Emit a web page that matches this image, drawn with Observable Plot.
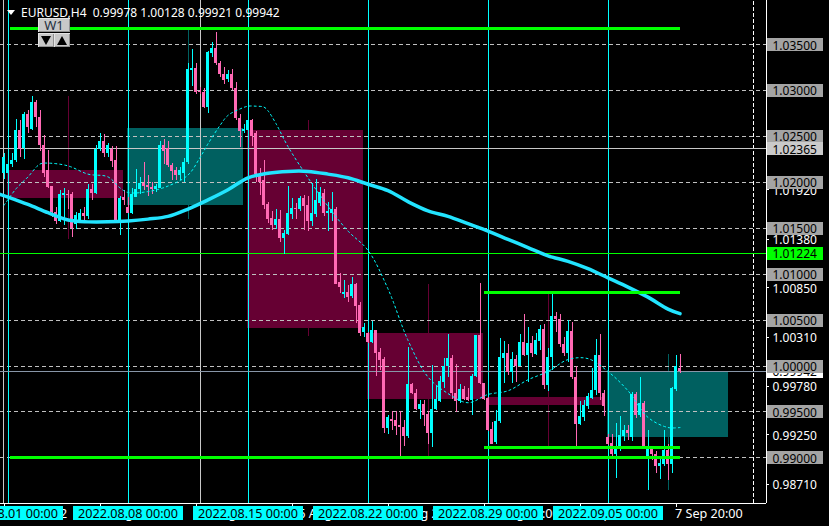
<!DOCTYPE html>
<html><head><meta charset="utf-8">
<script src="https://cdn.jsdelivr.net/npm/d3@7"></script>
<script src="https://cdn.jsdelivr.net/npm/@observablehq/plot@0.6"></script>
<style>
html,body{margin:0;padding:0;background:#000;overflow:hidden;}
#wrap{position:relative;width:829px;height:526px;overflow:hidden;background:#000;}
#wrap svg{display:block;}
#wrap svg rect,#wrap svg line{shape-rendering:crispEdges;}
.tri{position:absolute;left:7px;top:10px;width:0;height:0;border-left:4px solid transparent;border-right:4px solid transparent;border-top:5px solid #fff;}
.hdr{position:absolute;left:21px;top:5px;font:12px/16px "Noto Sans";color:#fff;white-space:pre;}
.w1{position:absolute;left:38px;top:18px;width:32px;height:14px;background:#c8c8c8;color:#243040;font:13px/14px "Noto Sans";text-align:center;box-shadow:inset 1px 1px 0 #e4e4e4,inset -1px -1px 0 #909090;}
.btn{position:absolute;top:33px;width:16px;height:14px;background:#c8c8c8;box-shadow:inset 1px 1px 0 #e4e4e4,inset -1px -1px 0 #909090;}
.b1{left:38px}.b2{left:54px}
.dn,.up{position:absolute;left:3px;top:3px;width:0;height:0;border-left:5px solid transparent;border-right:5px solid transparent;}
.dn{border-top:9px solid #000;}
.up{border-bottom:9px solid #000;}
</style></head>
<body>
<div id="wrap">
  <div id="chart"></div>
  <div class="tri"></div>
  <div class="hdr" id="hdr"></div>
  <div class="w1">W1</div>
  <div class="btn b1"><span class="dn"></span></div>
  <div class="btn b2"><span class="up"></span></div>
</div>
<script>
// ================= DATA =================
const symbol = "EURUSD", timeframe = "H4";
const firstBar = -1; // bar index of first candle (bar 0 = 2022.08.01 00:00, H4 bars)

const openP = [
1.0210,1.0210,1.0219,1.0224,1.0256,1.0237,1.0274,1.0258,1.0287,1.0271,
1.0240,1.0213,1.0195,1.0167,1.0157,1.0186,1.0187,1.0187,1.0154,1.0158,
1.0166,1.0163,1.0192,1.0188,1.0236,1.0245,1.0232,1.0236,1.0224,1.0159,
1.0184,1.0173,1.0166,1.0184,1.0192,1.0199,1.0197,1.0194,1.0192,1.0193,
1.0240,1.0237,1.0218,1.0213,1.0207,1.0210,1.0222,1.0322,1.0324,1.0299,
1.0298,1.0282,1.0340,1.0346,1.0330,1.0317,1.0312,1.0317,1.0302,1.0270,
1.0255,1.0256,1.0267,1.0253,1.0209,1.0202,1.0176,1.0161,1.0153,1.0160,
1.0139,1.0143,1.0165,1.0172,1.0170,1.0183,1.0175,1.0157,1.0165,1.0177,
1.0188,1.0166,1.0166,1.0171,1.0091,1.0078,1.0080,1.0076,1.0089,1.0066,
1.0036,1.0035,1.0026,1.0039,1.0015,1.0007,0.9932,0.9942,0.9941,0.9935,
0.9933,0.9923,0.9980,0.9970,0.9953,0.9958,0.9947,0.9927,0.9953,0.9961,
0.9982,0.9999,1.0008,0.9970,0.9961,0.9974,0.9966,0.9962,0.9989,1.0033,
0.9981,0.9965,0.9931,0.9917,0.9939,1.0008,1.0014,0.9993,1.0007,1.0000,
1.0026,1.0011,1.0024,1.0013,1.0027,1.0040,0.9979,1.0009,1.0054,1.0051,
1.0023,1.0014,1.0038,0.9988,0.9936,0.9944,0.9956,0.9965,0.9973,1.0011,
0.9970,0.9922,0.9916,0.9904,0.9910,0.9923,0.9930,0.9922,0.9969,0.9946,
0.9959,0.9901,0.9909,0.9904,0.9890,0.9893,0.9908,0.9893,0.9974,0.99978];

const highP = [
1.0232,1.0229,1.0231,1.0269,1.0267,1.0276,1.0278,1.0294,1.0289,1.0278,
1.0251,1.0235,1.0196,1.0173,1.0191,1.0193,1.0191,1.0189,1.0167,1.0171,
1.0173,1.0198,1.0198,1.0240,1.0253,1.0252,1.0242,1.0239,1.0239,1.0185,
1.0191,1.0184,1.0193,1.0214,1.0205,1.0222,1.0207,1.0200,1.0198,1.0245,
1.0247,1.0245,1.0221,1.0216,1.0216,1.0226,1.0329,1.0345,1.0329,1.0303,
1.0302,1.0343,1.0352,1.0363,1.0332,1.0325,1.0322,1.0323,1.0309,1.0274,
1.0263,1.0269,1.0268,1.0255,1.0215,1.0224,1.0178,1.0168,1.0170,1.0169,
1.0148,1.0195,1.0182,1.0177,1.0185,1.0186,1.0185,1.0199,1.0203,1.0194,
1.0192,1.0178,1.0189,1.0173,1.0101,1.0093,1.0088,1.0096,1.0090,1.0069,
1.0046,1.0036,1.0048,1.0039,1.0019,1.0009,0.9946,0.9950,0.9950,0.9950,
0.9941,1.0020,0.9981,0.9974,0.9962,0.9962,0.9950,1.0001,0.9978,0.9989,
1.0008,1.0034,1.0011,1.0002,0.9980,0.9978,0.9975,0.9991,1.0033,1.0090,
0.9981,0.9966,0.9938,0.9952,1.0030,1.0027,1.0023,1.0015,1.0011,1.0034,
1.0056,1.0042,1.0032,1.0035,1.0044,1.0045,1.0019,1.0079,1.0058,1.0056,
1.0031,1.0050,1.0047,1.0000,0.9961,0.9962,0.9970,0.9997,1.0029,1.0034,
0.9973,0.9925,0.9925,0.9937,0.9945,0.9935,0.9935,0.9971,0.9971,0.9988,
0.9961,0.9930,0.9911,0.9907,0.9898,0.9930,0.9915,0.9977,1.0011,1.00128];

const lowP = [
1.0203,1.0207,1.0216,1.0222,1.0227,1.0225,1.0253,1.0256,1.0260,1.0234,
1.0205,1.0193,1.0162,1.0154,1.0156,1.0153,1.0170,1.0140,1.0149,1.0155,
1.0158,1.0160,1.0180,1.0187,1.0234,1.0227,1.0227,1.0216,1.0158,1.0142,
1.0175,1.0166,1.0165,1.0184,1.0187,1.0191,1.0185,1.0187,1.0189,1.0193,
1.0220,1.0216,1.0202,1.0202,1.0202,1.0200,1.0220,1.0305,1.0296,1.0296,
1.0280,1.0275,1.0336,1.0327,1.0314,1.0307,1.0309,1.0300,1.0267,1.0238,
1.0253,1.0256,1.0239,1.0200,1.0186,1.0171,1.0155,1.0148,1.0149,1.0134,
1.0122,1.0142,1.0160,1.0160,1.0168,1.0148,1.0146,1.0152,1.0162,1.0174,
1.0163,1.0146,1.0157,1.0089,1.0079,1.0073,1.0069,1.0073,1.0046,1.0032,
1.0031,1.0024,1.0024,0.9989,0.9995,0.9927,0.9925,0.9930,0.9924,0.9900,
0.9912,0.9921,0.9969,0.9952,0.9942,0.9934,0.9915,0.9911,0.9951,0.9960,
0.9976,0.9988,0.9964,0.9949,0.9959,0.9962,0.9961,0.9946,0.9988,0.9980,
0.9962,0.9929,0.9915,0.9915,0.9937,0.9981,0.9990,0.9981,0.9982,0.9999,
1.0010,0.9982,1.0009,1.0011,1.0017,0.9974,0.9972,0.9995,1.0037,1.0020,
1.0010,1.0004,0.9985,0.9912,0.9935,0.9939,0.9953,0.9963,0.9968,0.9962,
0.9945,0.9913,0.9900,0.9877,0.9907,0.9918,0.9919,0.9918,0.9943,0.9944,
0.9910,0.9864,0.9897,0.9883,0.9876,0.9890,0.9875,0.9883,0.9972,0.99921];

const closeP = [
1.0227,1.0220,1.0224,1.0256,1.0236,1.0274,1.0260,1.0287,1.0271,1.0240,
1.0210,1.0194,1.0167,1.0157,1.0187,1.0188,1.0186,1.0150,1.0164,1.0166,
1.0163,1.0192,1.0188,1.0236,1.0245,1.0232,1.0240,1.0223,1.0159,1.0183,
1.0180,1.0166,1.0187,1.0192,1.0199,1.0195,1.0194,1.0192,1.0195,1.0240,
1.0234,1.0218,1.0212,1.0207,1.0213,1.0222,1.0323,1.0324,1.0298,1.0298,
1.0282,1.0341,1.0346,1.0330,1.0317,1.0311,1.0317,1.0302,1.0270,1.0255,
1.0258,1.0267,1.0250,1.0209,1.0200,1.0175,1.0160,1.0153,1.0160,1.0139,
1.0144,1.0166,1.0172,1.0170,1.0183,1.0174,1.0157,1.0166,1.0180,1.0189,
1.0166,1.0168,1.0171,1.0089,1.0086,1.0080,1.0075,1.0089,1.0065,1.0035,
1.0042,1.0026,1.0039,1.0014,1.0006,0.9932,0.9944,0.9940,0.9934,0.9933,
0.9923,0.9980,0.9970,0.9953,0.9958,0.9946,0.9927,0.9953,0.9964,0.9983,
1.0000,1.0008,0.9970,0.9961,0.9974,0.9964,0.9962,0.9989,1.0033,0.9981,
0.9963,0.9930,0.9915,0.9939,1.0009,1.0014,0.9993,1.0007,1.0000,1.0026,
1.0011,1.0024,1.0014,1.0028,1.0040,0.9979,1.0009,1.0054,1.0051,1.0023,
1.0014,1.0038,0.9987,0.9936,0.9945,0.9957,0.9967,0.9973,1.0011,0.9970,
0.9956,0.9915,0.9904,0.9911,0.9924,0.9930,0.9926,0.9969,0.9946,0.9959,
0.9912,0.9909,0.9904,0.9890,0.9894,0.9908,0.9893,0.9975,1.0000,0.99942];

// weekly candles drawn as boxes
const weekLabels = ["2022.08.01 00:00","2022.08.08 00:00","2022.08.15 00:00","2022.08.22 00:00","2022.08.29 00:00","2022.09.05 00:00"];
const weekStart  = [0, 30, 60, 90, 120, 150];
const weekEnd    = [28.75, 58.75, 88.75, 118.75, 148.75, 180];
const weekOpen   = [1.0213, 1.0175, 1.0257, 1.0035, 0.9966, 0.9922];
const weekHigh   = [1.0294, 1.0368, 1.0267, 1.0089, 1.0079, 1.0013];
const weekLow    = [1.0138, 1.0160, 1.0032, 0.9899, 0.9911, 0.9864];
const weekClose  = [1.0183, 1.0259, 1.0041, 0.9963, 0.9957, 0.99942];

// slow moving average (thick)
const maBar = [-2,0,5,10,15,20,25,30,35,40,45,50,55,60,65,70,75,80,85,90,95,100,105,110,115,120,125,130,135,140,145,150,155,160,165,168];
const maVal = [1.0187,1.0184,1.0176,1.0167,1.0159,1.0157,1.0157,1.0158,1.0160,1.0163,1.0171,1.0181,1.0192,1.0205,1.0210,1.0212,1.0212,1.0209,1.0205,1.0198,1.0191,1.0179,1.0169,1.0163,1.0155,1.0147,1.0138,1.0129,1.0120,1.0114,1.0106,1.0096,1.0086,1.0075,1.0062,1.0057];

// fast moving average (dotted)
const fastBar = [-1,2,5,8,10,15,20,25,28,30,35,40,45,48,50,53,55,58,60,62,64,65,67,70,75,80,85,90,95,100,105,110,115,120,125,130,135,140,145,150,155,160,165,168];
const fastVal = [1.0175,1.0193,1.0206,1.0220,1.0221,1.0218,1.0209,1.0206,1.0194,1.0189,1.0190,1.0196,1.0208,1.0227,1.0242,1.0262,1.0273,1.0280,1.0283,1.0283,1.0282,1.0278,1.0264,1.0239,1.0205,1.0174,1.0147,1.0126,1.0084,1.0028,0.9988,0.9970,0.9960,0.9969,0.9973,0.9985,0.9994,1.0007,1.0008,0.9994,0.9973,0.9944,0.9933,0.9933];

// horizontal levels
const gridLevels  = [1.035, 1.030, 1.025, 1.020, 1.015, 1.010, 1.005, 1.000, 0.995, 0.990];
const greenLevels = [1.0368, 0.9900, 1.0080, 0.9911];
const greenFrom   = [0.6, 0.6, 119, 119];
const greenTo     = [168.1, 168.1, 168.1, 168.1];
const refLevel    = 1.02365;
const alertLevel  = 1.01224;
const bidPrice    = 0.99942;

// price axis ticks
const axisTickVals   = [1.0353, 1.0300, 1.0246, 1.0192, 1.0138, 1.0085, 1.0031, 0.9978, 0.9925, 0.9871];
const axisTickLabels = ["", "1.03000", "1.02460", "1.01920", "1.01380", "1.00850", "1.00310", "0.99780", "0.99250", "0.98710"];

// time axis ticks
const dateTickBars   = [-1, 23, 47, 71, 95, 119, 143, 167];
const dateTickLabels = ["29 Jul 2022","4 Aug 20:00","10 Aug 20:00","16 Aug 20:00","22 Aug 20:00","26 Aug 20:00","1 Sep 20:00","7 Sep 20:00"];

// vertical marker lines
const markerBars = [-1.2, 48];
const shiftBar = 186.25;

// ================= LAYOUT =================
const W = 829, H = 526;
const BAR0_PX = 7.5, PX_PER_BAR = 4, PAR_PX = 365.5, PX_PER_UNIT = 9180;
const FRAME_R = 765.5, FRAME_B = 502.5;
const xi = px => (px - BAR0_PX) / PX_PER_BAR;
const yp = py => 1 + (PAR_PX - py) / PX_PER_UNIT;
const FONT = "Noto Sans";

const colBull = "#00ffff", colBear = "#ff69b4", boxBull = "#006060", boxBear = "#660033";

const last = openP.length - 1;
document.getElementById("hdr").textContent =
  `${symbol},${timeframe}  ${openP[last].toFixed(5)} ${highP[last].toFixed(5)} ${lowP[last].toFixed(5)} ${closeP[last].toFixed(5)}`;

const bars = openP.map((o, k) => {
  const c = closeP[k], lo = Math.min(o, c), hi = Math.max(o, c);
  return {i: firstBar + k, o, h: highP[k], l: lowP[k], c, b1: lo, b2: Math.max(hi, lo + 1 / PX_PER_UNIT)};
});
const weeks = weekStart.map((s, k) => ({s, e: weekEnd[k], o: weekOpen[k], h: weekHigh[k], l: weekLow[k], c: weekClose[k], label: weekLabels[k]}));
const maPts = maBar.map((b, k) => ({b, v: maVal[k]}));
const fastPts = fastBar.map((b, k) => ({b, v: fastVal[k]}));
const greens = greenLevels.map((v, k) => ({v, f: greenFrom[k], t: greenTo[k]}));
const axisTicks = axisTickVals.map((v, k) => ({v, t: axisTickLabels[k]}));
const userBoxes = gridLevels.map(v => ({v, t: v.toFixed(5), bg: "#a4a4a4"}))
  .concat([{v: refLevel, t: refLevel.toFixed(5), bg: "#cacaca"}, {v: alertLevel, t: alertLevel.toFixed(5), bg: "#00ff00"}]);

const xFull = () => xi(0), xRight = () => xi(FRAME_R);
const yTop = () => yp(0), yBot = () => yp(FRAME_B);
const boxUp = 6 / PX_PER_UNIT, boxDn = 7 / PX_PER_UNIT;

const chart = Plot.plot({
  width: W, height: H,
  marginTop: 0, marginRight: 0, marginBottom: 0, marginLeft: 0,
  x: {domain: [xi(0), xi(W)], range: [0, W], axis: null},
  y: {domain: [yp(H), yp(0)], range: [H, 0], axis: null},
  color: {type: "identity"},
  style: {background: "#000", fontFamily: FONT, overflow: "hidden"},
  marks: [
    // weekly candles
    Plot.ruleX(weeks, {x: d => d.s + 15, y1: "l", y2: "h", stroke: d => d.c >= d.o ? boxBull : boxBear}),
    Plot.rect(weeks, {x1: d => d.s - 0.125, x2: "e", y1: d => Math.min(d.o, d.c), y2: d => Math.max(d.o, d.c), fill: d => d.c >= d.o ? boxBull : boxBear}),
    // grid levels
    Plot.ruleY(gridLevels, {y: d => d, x1: xFull, x2: xRight, stroke: "#c0c0c0", strokeDasharray: "4,3"}),
    Plot.ruleX([shiftBar], {x: d => d, y1: yBot, y2: yTop, stroke: "#ffffff", strokeDasharray: "4,2"}),
    // week separators and markers
    Plot.ruleX(weekStart, {x: d => d, y1: yBot, y2: yTop, stroke: "#00ffff"}),
    Plot.ruleX(markerBars, {x: d => d, y1: yBot, y2: yTop, stroke: "#c8c8c8"}),
    // horizontal reference lines
    Plot.ruleY([refLevel], {y: d => d, x1: xFull, x2: xRight, stroke: "#c8c8c8"}),
    Plot.ruleY([alertLevel], {y: d => d, x1: xFull, x2: xRight, stroke: "#00ff00"}),
    Plot.ruleY([bidPrice], {y: d => d, x1: xFull, x2: xRight, stroke: "#8896a8"}),
    // candles
    Plot.ruleX(bars, {x: "i", y1: "l", y2: "h", stroke: d => d.c >= d.o ? colBull : colBear}),
    Plot.rect(bars, {x1: d => d.i - 0.375, x2: d => d.i + 0.375, y1: "b1", y2: "b2", fill: d => d.c >= d.o ? colBull : colBear}),
    // moving averages
    Plot.line(maPts, {x: "b", y: "v", stroke: "#22e4ff", strokeWidth: 3.5, curve: "catmull-rom"}),
    Plot.line(fastPts, {x: "b", y: "v", stroke: "#00ffff", strokeWidth: 1, strokeDasharray: "2,3", curve: "catmull-rom"}),
    // green high/low lines
    Plot.ruleY(greens, {y: "v", x1: "f", x2: "t", stroke: "#00ff00", strokeWidth: 3}),
    // frame
    Plot.ruleX([0], {x: xRight, y1: yBot, y2: yTop, stroke: "#ffffff"}),
    Plot.ruleY([0], {y: yBot, x1: xFull, x2: xRight, stroke: "#ffffff"}),
    // price axis
    Plot.ruleY(axisTicks, {y: "v", x1: xRight, x2: () => xi(769), stroke: "#ffffff"}),
    Plot.text(axisTicks, {x: () => xi(772), y: "v", text: "t", fill: "#ffffff", textAnchor: "start", lineAnchor: "middle", fontSize: 12, fontFamily: FONT, dy: 1}),
    Plot.rect([bidPrice], {x1: () => xi(767), x2: () => xi(823), y1: d => d - boxDn, y2: d => d + boxUp, fill: "#ffffff"}),
    Plot.text([bidPrice], {x: () => xi(772), y: d => d, text: d => d.toFixed(5), fill: "#000", textAnchor: "start", lineAnchor: "middle", fontSize: 12, fontFamily: FONT, dy: 1}),
    Plot.rect(userBoxes, {x1: () => xi(767), x2: () => xi(823), y1: d => d.v - boxDn, y2: d => d.v + boxUp, fill: "bg"}),
    Plot.text(userBoxes, {x: () => xi(772), y: "v", text: "t", fill: "#000", textAnchor: "start", lineAnchor: "middle", fontSize: 12, fontFamily: FONT, dy: 1}),
    // time axis
    Plot.ruleX(dateTickBars, {x: d => d, y1: yBot, y2: () => yp(507), stroke: "#ffffff"}),
    Plot.text(dateTickBars, {x: d => d, y: () => yp(513), text: (d, k) => dateTickLabels[k], fill: "#ffffff", textAnchor: "start", lineAnchor: "middle", dx: -1, fontSize: 12.6, fontFamily: FONT}),
    Plot.rect(weeks, {x1: d => d.s - 13.75, x2: d => d.s + 13.75, y1: () => yp(519.5), y2: () => yp(506), fill: "#00ffff"}),
    Plot.text(weeks, {x: "s", y: () => yp(513), text: "label", fill: "#000", textAnchor: "middle", lineAnchor: "middle", fontSize: 12.6, fontFamily: FONT})
  ]
});
document.getElementById("chart").appendChild(chart);
</script>
</body></html>
